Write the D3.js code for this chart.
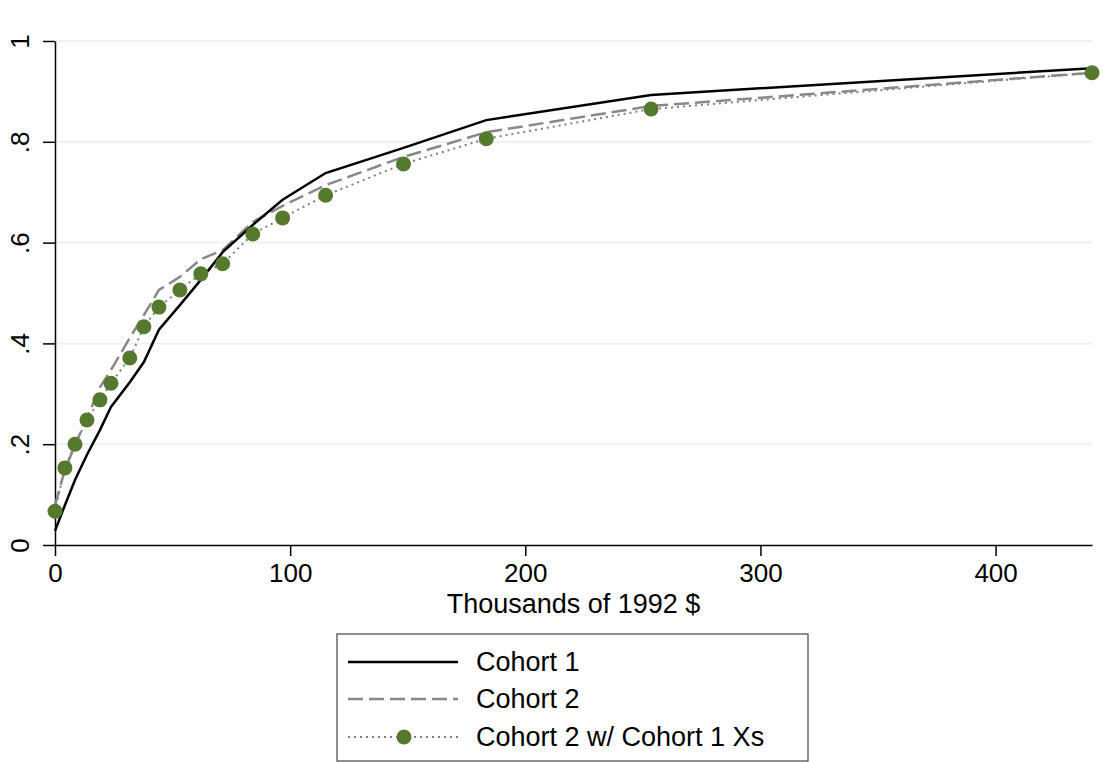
<!DOCTYPE html>
<html>
<head>
<meta charset="utf-8">
<script src="https://cdn.jsdelivr.net/npm/d3@7"></script>
<style>
  body { margin: 0; background: #fff; }
  text { font-family: "Liberation Sans", Arial, sans-serif; fill: #000; }
</style>
</head>
<body>
<div id="chart"></div>
<script>
// data (x in thousands of 1992 $, y = cumulative share)
const xVals = [0, 4.2, 8.5, 13.6, 19.1, 23.8, 31.8, 37.8, 44.2, 53.1, 62.0, 71.3, 84.1, 96.8, 115.1, 148.2, 183.4, 253.5, 441];
const cohort1 = [0.028, 0.079, 0.129, 0.179, 0.228, 0.274, 0.323, 0.363, 0.427, 0.476, 0.526, 0.581, 0.635, 0.685, 0.738, 0.788, 0.843, 0.893, 0.946];
const cohort2 = [0.079, 0.149, 0.198, 0.252, 0.313, 0.347, 0.411, 0.456, 0.506, 0.532, 0.567, 0.585, 0.641, 0.673, 0.714, 0.770, 0.819, 0.871, 0.937];
const cohort2x1 = [0.067, 0.153, 0.200, 0.248, 0.288, 0.321, 0.371, 0.433, 0.472, 0.506, 0.538, 0.558, 0.617, 0.649, 0.694, 0.756, 0.806, 0.865, 0.937];

const xTicks = [0, 100, 200, 300, 400];
const yTicks = [0, 0.2, 0.4, 0.6, 0.8, 1];
const yTickLabels = ["0", ".2", ".4", ".6", ".8", "1"];
const seriesNames = ["Cohort 1", "Cohort 2", "Cohort 2 w/ Cohort 1 Xs"];

const W = 1114, H = 762;
const plot = { left: 55, right: 1092, top: 41, bottom: 545 };

const svg = d3.select("#chart").append("svg")
    .attr("width", W)
    .attr("height", H);

const x = d3.scaleLinear().domain([0, 441]).range([plot.left, plot.right]);
const y = d3.scaleLinear().domain([0, 1]).range([plot.bottom, plot.top]);

// gridlines
svg.append("g")
    .selectAll("line")
    .data(yTicks.filter(d => d > 0))
    .enter().append("line")
    .attr("x1", plot.left)
    .attr("x2", plot.right)
    .attr("y1", d => y(d))
    .attr("y2", d => y(d))
    .style("stroke", "#eaf2f3")
    .style("stroke-width", 2);

// axes
const xAxis = svg.append("g")
    .attr("transform", `translate(0,${plot.bottom})`)
    .call(d3.axisBottom(x).tickValues(xTicks).tickSize(11).tickPadding(8).tickSizeOuter(0));
xAxis.select(".domain").style("stroke", "#000").style("stroke-width", 1.5);
xAxis.selectAll(".tick line").style("stroke", "#000").style("stroke-width", 1.5);
xAxis.selectAll("text").style("font-size", "26px").attr("dy", "0.71em");

const yAxis = svg.append("g")
    .attr("transform", `translate(${plot.left},0)`)
    .call(d3.axisLeft(y).tickValues(yTicks).tickFormat((d, i) => yTickLabels[i]).tickSize(12).tickSizeOuter(0));
yAxis.select(".domain").style("stroke", "#000").style("stroke-width", 1.5);
yAxis.selectAll(".tick line").style("stroke", "#000").style("stroke-width", 1.5);
yAxis.selectAll("text")
    .style("font-size", "26px")
    .attr("x", null).attr("dy", null)
    .attr("text-anchor", "middle")
    .attr("transform", "translate(-35,0) rotate(-90)")
    .attr("dy", "0.35em");

// x axis title
svg.append("text")
    .attr("x", (plot.left + plot.right) / 2)
    .attr("y", 613)
    .attr("text-anchor", "middle")
    .style("font-size", "27px")
    .text("Thousands of 1992 $");

const pts = s => xVals.map((v, i) => [x(v), y(s[i])]);
const line = d3.line();

svg.append("path")
    .attr("d", line(pts(cohort2x1)))
    .style("fill", "none")
    .style("stroke", "#7f7f7f")
    .style("stroke-width", 2)
    .style("stroke-dasharray", "2,4");

svg.append("path")
    .attr("d", line(pts(cohort2)))
    .style("fill", "none")
    .style("stroke", "#888")
    .style("stroke-width", 2.5)
    .style("stroke-dasharray", "15,6");

svg.append("path")
    .attr("d", line(pts(cohort1)))
    .style("fill", "none")
    .style("stroke", "#000")
    .style("stroke-width", 2.5);

svg.append("g")
    .selectAll("circle")
    .data(pts(cohort2x1))
    .enter().append("circle")
    .attr("cx", d => d[0])
    .attr("cy", d => d[1])
    .attr("r", 7.5)
    .style("fill", "#557a2d");

// legend
const lg = svg.append("g");
lg.append("rect")
    .attr("x", 337).attr("y", 634)
    .attr("width", 471).attr("height", 127)
    .style("fill", "#fff")
    .style("stroke", "#444")
    .style("stroke-width", 1.2);

const rowY = [662, 699, 737];
const styles = [
    { stroke: "#000", width: 2.5, dash: null },
    { stroke: "#888", width: 2.5, dash: "15,6" },
    { stroke: "#7f7f7f", width: 2, dash: "2,4" }
];
seriesNames.forEach((name, i) => {
    lg.append("line")
        .attr("x1", 348).attr("x2", 458)
        .attr("y1", rowY[i]).attr("y2", rowY[i])
        .style("stroke", styles[i].stroke)
        .style("stroke-width", styles[i].width)
        .style("stroke-dasharray", styles[i].dash);
    if (i === 2) {
        lg.append("circle")
            .attr("cx", 404).attr("cy", rowY[i])
            .attr("r", 7.5)
            .style("fill", "#557a2d");
    }
    lg.append("text")
        .attr("x", 476)
        .attr("y", rowY[i])
        .attr("dy", "0.35em")
        .style("font-size", "27px")
        .text(name);
});
</script>
</body>
</html>
